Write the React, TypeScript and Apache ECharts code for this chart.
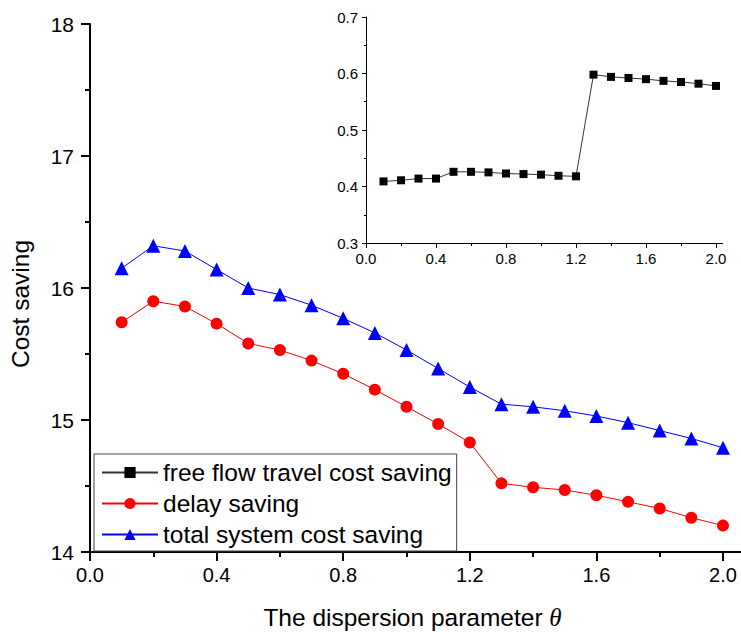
import React, { useEffect, useRef } from "react";
import * as echarts from "echarts";

const theta = [0.1, 0.2, 0.3, 0.4, 0.5, 0.6, 0.7, 0.8, 0.9, 1.0, 1.1, 1.2, 1.3, 1.4, 1.5, 1.6, 1.7, 1.8, 1.9, 2.0];
const freeFlowSaving = [0.409, 0.411, 0.414, 0.414, 0.426, 0.426, 0.425, 0.423, 0.422, 0.421, 0.419, 0.418, 0.598, 0.594, 0.592, 0.59, 0.587, 0.585, 0.582, 0.578];
const delaySaving = [15.74, 15.9, 15.86, 15.73, 15.58, 15.53, 15.45, 15.35, 15.23, 15.1, 14.97, 14.83, 14.52, 14.49, 14.47, 14.43, 14.38, 14.33, 14.26, 14.2];
const totalSaving = [16.15, 16.32, 16.28, 16.14, 16.0, 15.95, 15.87, 15.77, 15.66, 15.53, 15.39, 15.25, 15.12, 15.1, 15.07, 15.03, 14.98, 14.92, 14.86, 14.79];
const seriesNames = ["free flow travel cost saving", "delay saving", "total system cost saving"];

const FONT = "'Liberation Sans', Arial, sans-serif";

export default function App() {
  const ref = useRef<HTMLDivElement>(null);
  useEffect(() => {
    if (!ref.current) return;
    const chart = echarts.init(ref.current, null, { renderer: "svg" });
    const pairs = (ys: number[]) => theta.map((t, i) => [t, ys[i]]);
    const option: any = {
      animation: false,
      backgroundColor: "#fff",
      textStyle: { fontFamily: FONT },
      grid: [
        { left: 88, top: 24, right: 18, bottom: 85 },
        { left: 366, top: 17, right: 25, bottom: 394 },
      ],
      xAxis: [
        {
          gridIndex: 0,
          type: "value",
          min: 0,
          max: 2.0,
          interval: 0.4,
          name: "{a|The dispersion parameter }{b|θ}",
          nameLocation: "middle",
          nameGap: 53,
          nameTextStyle: {
            padding: [0, 0, 0, 12],
            rich: {
              a: { fontSize: 24.5, fontFamily: FONT, color: "#000" },
              b: { fontSize: 25, fontFamily: "'Liberation Serif', 'Times New Roman', serif", fontStyle: "italic", color: "#000" },
            },
          },
          axisLine: { show: true, onZero: false, lineStyle: { color: "#000", width: 2 } },
          axisTick: { show: true, inside: false, length: 9, lineStyle: { width: 2, color: "#000" } },
          minorTick: { show: true, splitNumber: 2, length: 5, lineStyle: { width: 2, color: "#000" } },
          splitLine: { show: false },
          axisLabel: { fontSize: 20, color: "#000", margin: 13, formatter: (v: number) => v.toFixed(1) },
        },
        {
          gridIndex: 1,
          type: "value",
          min: 0,
          max: 2.0,
          interval: 0.4,
          axisLine: { show: true, onZero: false, lineStyle: { color: "#000", width: 1 } },
          axisTick: { show: true, inside: false, length: 5, lineStyle: { width: 1, color: "#000" } },
          minorTick: { show: true, splitNumber: 2, length: 3, lineStyle: { width: 1, color: "#000" } },
          splitLine: { show: false },
          axisLabel: { fontSize: 15, color: "#000", margin: 8, formatter: (v: number) => v.toFixed(1) },
        },
      ],
      yAxis: [
        {
          gridIndex: 0,
          type: "value",
          min: 14,
          max: 18,
          interval: 1,
          name: "Cost saving",
          nameLocation: "middle",
          nameGap: 57,
          nameTextStyle: { fontSize: 24.5, color: "#000", fontFamily: FONT, padding: [0, 32, 0, 0] },
          axisLine: { show: true, onZero: false, lineStyle: { color: "#000", width: 2 } },
          axisTick: { show: true, inside: false, length: 9, lineStyle: { width: 2, color: "#000" } },
          minorTick: { show: true, splitNumber: 2, length: 5, lineStyle: { width: 2, color: "#000" } },
          splitLine: { show: false },
          axisLabel: { fontSize: 21, color: "#000", margin: 16 },
        },
        {
          gridIndex: 1,
          type: "value",
          min: 0.3,
          max: 0.7,
          interval: 0.1,
          axisLine: { show: true, onZero: false, lineStyle: { color: "#000", width: 1 } },
          axisTick: { show: true, inside: false, length: 4, lineStyle: { width: 1, color: "#000" } },
          minorTick: { show: true, splitNumber: 2, length: 2, lineStyle: { width: 1, color: "#000" } },
          splitLine: { show: false },
          axisLabel: { fontSize: 15, color: "#000", margin: 8, formatter: (v: number) => v.toFixed(1) },
        },
      ],
      legend: {
        data: seriesNames,
        orient: "vertical",
        left: 94,
        top: 454,
        padding: [6, 5, 4, 7],
        itemWidth: 56,
        itemHeight: 14,
        itemGap: 6,
        borderColor: "#444",
        borderWidth: 1,
        borderRadius: 0,
        textStyle: { fontSize: 24.5, color: "#000", fontFamily: FONT, lineHeight: 24 },
      },
      series: [
        {
          name: seriesNames[0],
          type: "line",
          xAxisIndex: 1,
          yAxisIndex: 1,
          data: pairs(freeFlowSaving),
          symbol: "rect",
          symbolSize: 8,
          itemStyle: { color: "#000" },
          lineStyle: { color: "#333", width: 1 },
        },
        {
          name: seriesNames[1],
          type: "line",
          xAxisIndex: 0,
          yAxisIndex: 0,
          data: pairs(delaySaving),
          symbol: "circle",
          symbolSize: 12,
          itemStyle: { color: "#ff0000" },
          lineStyle: { color: "#ff0000", width: 1 },
        },
        {
          name: seriesNames[2],
          type: "line",
          xAxisIndex: 0,
          yAxisIndex: 0,
          data: pairs(totalSaving),
          symbol: "triangle",
          symbolSize: 14,
          itemStyle: { color: "#0000ff" },
          lineStyle: { color: "#0000ff", width: 1 },
        },
      ],
      graphic: [
        { type: "line", shape: { x1: 723, y1: 552, x2: 741, y2: 552 }, style: { stroke: "#000", lineWidth: 2 } },
        { type: "line", shape: { x1: 716, y1: 243.5, x2: 723, y2: 243.5 }, style: { stroke: "#000", lineWidth: 1 } },
      ],
    };
    chart.setOption(option);
    return () => chart.dispose();
  }, []);
  return <div ref={ref} style={{ position: "absolute", left: 0, top: 0, width: 741, height: 637 }} />;
}
